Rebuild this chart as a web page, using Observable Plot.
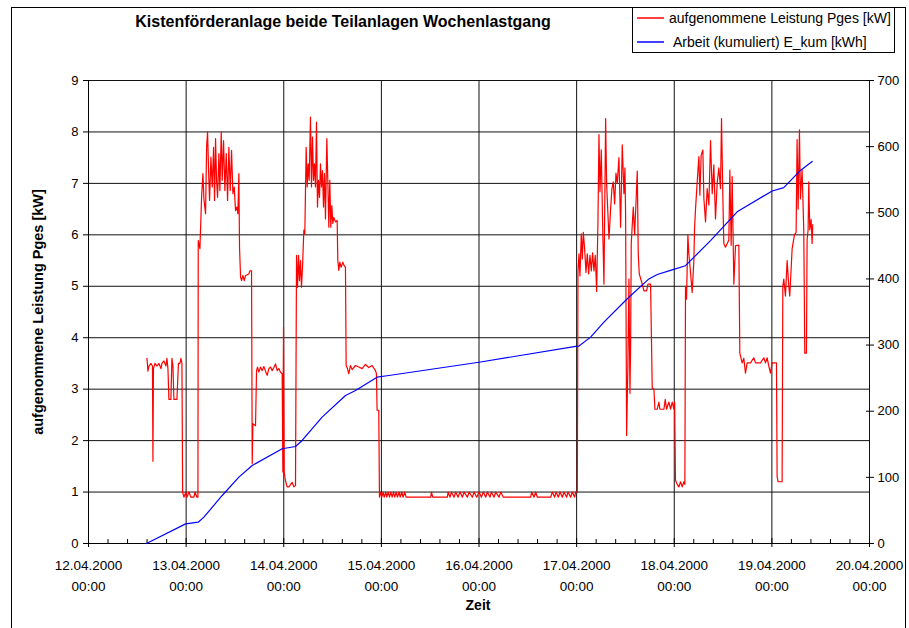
<!DOCTYPE html>
<html>
<head>
<meta charset="utf-8">
<script src="https://cdn.jsdelivr.net/npm/d3@7"></script>
<script src="https://cdn.jsdelivr.net/npm/@observablehq/plot@0.6"></script>
<style>
  html, body { margin: 0; padding: 0; background: #fff; overflow: hidden; }
  #wrap { position: relative; width: 909px; height: 628px; font-family: "Liberation Sans", Arial, sans-serif; }
  #frame { position: absolute; left: 11px; top: 7px; width: 895px; height: 700px; border: 1px solid #000; box-sizing: border-box; }
  #title { position: absolute; left: 0; width: 686px; top: 13px; text-align: center; font-weight: bold; font-size: 16px; }
  #legend { position: absolute; left: 632px; top: 7px; width: 263px; height: 46px; border: 1px solid #000; box-sizing: border-box; background: #fff; font-size: 14px; }
  .lg { position: absolute; left: 4px; white-space: nowrap; display: flex; align-items: center; }
  .lg svg { margin-right: 4px; }
  #ylab { position: absolute; left: 38px; top: 312px; transform: translate(-50%, -50%) rotate(-90deg); font-weight: bold; font-size: 14.5px; white-space: nowrap; }
  #xlab { position: absolute; left: 478px; top: 605px; transform: translate(-50%, -50%); font-weight: bold; font-size: 14px; }
  #chart { position: absolute; left: 0; top: 0; }
</style>
</head>
<body>
<div id="wrap">
  <div id="frame"></div>
  <div id="chart"></div>
  <div id="title"></div>
  <div id="legend"></div>
  <div id="ylab"></div>
  <div id="xlab"></div>
</div>
<script>
// ---- text ----
const titleText = "Kistenförderanlage beide Teilanlagen Wochenlastgang";
const seriesNames = ["aufgenommene Leistung Pges [kW]", "Arbeit (kumuliert) E_kum [kWh]"];
const seriesColors = ["#ff0000", "#0000ff"];
const yLabelLeft = "aufgenommene Leistung Pges [kW]";
const xLabel = "Zeit";

// ---- tick labels ----
const dayLabels = ["12.04.2000", "13.04.2000", "14.04.2000", "15.04.2000", "16.04.2000", "17.04.2000", "18.04.2000", "19.04.2000", "20.04.2000"];
const timeLabel = "00:00";
const leftTicks = [0, 1, 2, 3, 4, 5, 6, 7, 8, 9];
const rightTicks = [0, 100, 200, 300, 400, 500, 600, 700];

// ---- data: hours since 12.04.2000 00:00 ----
const pHours = [
14.37,14.62,14.86,15.35,15.72,15.84,15.97,16.34,16.83,17.32,17.81,18.05,18.54,19.04,19.28,19.53,19.77,20.26,20.51,20.76,21.0,21.74,22.11,22.48,22.72,22.97,
23.14,23.46,23.95,24.2,24.69,25.18,25.92,26.17,26.66,26.9,
26.98,27.39,27.8,28.13,28.37,28.78,29.03,29.27,29.52,29.76,30.09,30.42,30.75,30.99,31.24,31.48,31.73,32.06,32.3,32.63,32.88,33.2,33.53,33.86,34.19,34.51,34.84,35.17,35.5,35.82,36.15,36.48,36.72,36.97,37.05,
37.13,37.38,37.63,37.95,38.28,38.61,39.43,39.67,40.08,40.25,40.41,41.06,
41.31,41.55,41.88,42.29,42.7,43.11,43.52,43.93,44.34,44.75,45.16,45.57,45.98,46.39,46.8,47.21,47.61,47.78,47.94,48.11,48.43,48.84,49.25,50.07,50.48,50.89,
51.14,51.38,51.63,51.87,52.12,52.36,52.61,52.94,53.18,53.51,53.76,54.0,54.25,54.57,54.82,55.07,55.31,55.56,55.8,56.05,56.29,56.54,56.79,57.03,57.28,57.52,57.77,58.01,58.26,58.59,58.83,59.08,59.32,59.57,59.82,60.06,60.31,60.72,61.13,
61.29,61.54,61.78,62.11,62.52,62.85,63.17,63.34,63.66,63.99,64.4,64.81,65.63,66.45,67.27,68.09,68.9,69.72,70.54,70.79,70.95,71.36,71.53,
71.86,72.10,72.43,72.68,73.08,73.33,73.66,73.99,74.31,74.64,74.97,75.30,75.62,75.95,76.36,76.61,77.02,77.34,77.75,78.08,78.41,84.14,84.30,84.63,
88.23,88.40,88.89,89.22,89.87,90.28,90.85,91.34,91.92,92.33,93.15,93.56,94.37,94.78,95.44,96.01,96.59,97.08,97.65,98.06,98.71,99.04,99.70,100.11,100.93,101.33,101.99,
108.70,108.95,109.52,109.93,110.34,113.62,114.03,114.60,114.93,115.50,115.91,116.48,116.89,117.55,117.87,118.53,118.94,119.51,119.76,120.17,
120.33,120.58,120.82,121.15,121.4,121.64,121.97,122.3,122.62,122.95,123.28,123.61,123.93,124.26,124.59,124.92,125.24,125.49,125.74,126.06,126.39,126.72,127.13,127.37,127.7,127.95,128.36,128.68,129.01,129.34,129.67,129.99,130.4,130.81,131.22,131.63,131.88,132.04,
132.29,132.61,132.86,133.11,133.27,133.43,133.68,133.93,134.25,134.58,134.91,135.15,135.4,136.14,136.54,137.2,137.53,138.18,
138.59,139.0,139.25,139.82,140.23,140.47,141.46,141.78,142.11,142.68,143.09,143.5,143.91,144.1,144.3,144.73,145.14,145.55,145.96,146.37,146.61,
146.77,147.02,147.35,147.59,148.0,148.41,148.82,148.99,149.23,149.64,150.05,150.3,150.62,151.03,151.28,151.69,152.1,152.51,152.92,153.33,153.73,154.14,154.55,154.96,155.37,155.62,156.03,156.19,156.6,157.42,157.67,157.99,158.24,158.65,159.06,159.88,
160.12,160.69,161.1,161.51,161.92,162.74,163.56,163.97,165.2,166.02,166.43,166.84,167.25,167.65,168.06,169.13,169.29,169.54,170.52,
170.69,170.93,171.34,171.75,172.16,172.4,172.98,173.55,173.96,174.2,174.45,174.78,175.02,175.43,175.84,176.09,176.5,176.66,176.91,177.07,177.32,177.65,177.89,178.05
];
const pges = [
3.6,3.35,3.45,3.5,3.45,1.6,3.4,3.5,3.45,3.5,3.4,3.5,3.55,3.45,3.6,3.4,2.8,2.8,3.6,3.45,2.8,2.8,3.5,3.5,3.6,3.5,
1.0,0.9,1.0,0.9,1.0,0.9,0.9,1.0,0.9,0.9,
5.89,5.73,6.73,7.19,6.7,6.41,7.7,8.0,7.25,6.67,7.51,6.93,7.7,6.67,7.87,7.06,6.73,7.58,6.86,8.0,7.06,7.83,6.86,7.58,6.67,7.7,6.86,7.64,6.8,6.93,6.47,6.54,6.41,7.19,6.41,
5.76,5.18,5.11,5.21,5.11,5.21,5.24,5.3,5.3,1.55,2.33,2.29,
3.36,3.43,3.33,3.43,3.36,3.44,3.35,3.27,3.4,3.43,3.36,3.42,3.49,3.36,3.4,3.33,3.3,1.39,4.21,1.39,1.22,1.1,1.1,1.19,1.1,1.13,
5.6,4.98,5.6,5.11,5.5,4.98,5.37,6.09,6.02,7.7,6.93,7.38,7.06,8.29,6.93,7.9,7.06,7.38,6.93,8.19,6.54,7.06,6.73,7.38,6.93,7.25,6.54,7.19,6.31,7.87,7.06,6.15,7.06,6.15,6.57,6.22,6.34,6.25,6.28,
5.5,5.31,5.47,5.37,5.47,5.4,5.37,3.46,3.4,3.3,3.46,3.38,3.46,3.43,3.4,3.48,3.42,3.46,3.36,3.3,2.59,2.59,0.9,
1.0,0.9,1.0,0.9,1.0,0.9,1.0,0.9,1.0,0.9,1.0,0.9,1.0,0.9,1.0,0.9,1.0,0.9,1.0,0.9,0.9,0.9,1.0,0.9,
0.9,1.0,0.9,1.0,0.9,1.0,0.9,1.0,0.9,1.0,0.9,1.0,0.9,1.0,0.9,1.0,0.9,1.0,0.9,1.0,0.9,1.0,0.9,1.0,0.9,1.0,0.9,
0.9,1.0,0.9,1.0,0.9,0.9,1.0,0.9,1.0,0.9,1.0,0.9,1.0,0.9,1.0,0.9,1.0,0.9,1.0,1.0,
5.27,5.63,5.2,6.02,5.53,6.05,5.73,5.27,5.63,5.24,5.6,5.3,5.65,5.3,5.6,4.9,6.25,7.95,6.84,7.65,6.2,5.04,8.26,7.0,6.4,5.92,6.51,6.9,7.03,6.6,7.2,7.0,7.5,6.15,7.75,6.8,7.3,6.4,
2.1,3.5,5.14,2.92,3.8,5.83,6.2,6.54,6.0,6.6,7.24,5.63,5.24,5.04,4.91,4.91,5.04,5.04,
3.02,3.0,2.61,2.61,2.75,2.61,2.61,2.8,2.61,2.75,2.61,2.75,2.61,2.75,1.23,1.15,1.1,1.2,1.1,1.2,1.15,
5.0,4.75,6.0,5.63,5.27,4.88,5.5,6.12,6.5,7.03,7.52,6.77,7.55,7.65,6.71,6.25,6.9,6.58,7.83,6.8,7.36,6.31,7.0,7.3,6.9,8.26,6.41,5.83,5.76,5.9,7.26,5.8,7.13,5.04,5.79,5.8,
3.7,3.51,3.6,3.31,3.51,3.51,3.61,3.51,3.51,3.61,3.51,3.61,3.45,3.31,3.51,3.51,1.3,1.2,1.2,
5.0,5.14,4.81,5.5,5.0,4.81,5.73,6.0,6.05,7.85,6.5,8.04,6.7,7.26,6.1,3.7,3.7,5.9,6.1,7.03,6.1,6.3,5.83,6.2
];
const eHours = [14.25,23.88,26.97,28.37,32.87,36.97,40.24,47.61,50.9,52.52,57.43,63.18,65.64,70.94,73.82,96.0,119.76,120.57,123.44,126.71,132.46,137.76,139.82,143.09,146.77,152.92,159.47,168.07,170.92,175.02,177.9];
const ekum = [0,29.7,32.2,39.8,72.6,100.3,118,143.2,146.7,155.8,191,223.8,231.4,251.5,254,274,298,298.5,312,334.6,370,400,406.7,413,420,458,501.5,533,538,564,577.6];

// ---- build ----
const t0 = Date.UTC(2000, 3, 12);
const toDate = h => new Date(t0 + h * 3600e3);
const leftMax = 9, rightMax = 700;
const red = pHours.map((h, i) => ({t: toDate(h), v: pges[i]}));
const blue = eHours.map((h, i) => ({t: toDate(h), e: ekum[i]}));
const days = dayLabels.map((_, i) => new Date(t0 + i * 864e5));
const minor = d3.range(0, 40).filter(k => k % 5 !== 0).map(k => new Date(t0 + k * 0.2 * 864e5));
const dayIndex = d => Math.round((d - t0) / 864e5);

const chart = Plot.plot({
  width: 909, height: 628,
  marginLeft: 88, marginRight: 40, marginTop: 80, marginBottom: 85,
  style: {fontFamily: '"Liberation Sans", Arial, sans-serif', fontSize: "12px", background: "transparent", color: "#000"},
  x: {type: "utc", domain: [days[0], days[days.length - 1]]},
  y: {domain: [0, leftMax]},
  marks: [
    Plot.gridY({ticks: leftTicks.slice(1), stroke: "#111", strokeOpacity: 1}),
    Plot.gridX({ticks: days.slice(1), stroke: "#111", strokeOpacity: 1}),
    Plot.ruleX([days[0]], {stroke: "#000"}),
    Plot.ruleY([0], {stroke: "#000"}),
    Plot.line(red, {x: "t", y: "v", stroke: seriesColors[0], strokeWidth: 1.2}),
    Plot.line(blue, {x: "t", y: d => d.e * leftMax / rightMax, stroke: seriesColors[1], strokeWidth: 1.2}),
    Plot.axisY({ticks: leftTicks, tickSize: 5, tickPadding: 5, label: null, fontSize: 13}),
    Plot.axisY({anchor: "right", ticks: rightTicks.map(v => v * leftMax / rightMax),
      tickFormat: d => String(Math.round(d * rightMax / leftMax)), tickSize: 8, dx: -4, tickPadding: 4, label: null, fontSize: 13}),
    Plot.axisX({ticks: minor, tickSize: 4, dy: -4, tickFormat: () => "", label: null}),
    Plot.axisX({ticks: days, tickSize: 9, dy: -5, tickFormat: () => "", label: null}),
    Plot.axisX({ticks: days, tickSize: 0, tickPadding: 12, lineHeight: 1.55, fontSize: 13.5,
      tickFormat: d => dayLabels[dayIndex(d)] + "\n" + timeLabel, label: null})
  ]
});
document.getElementById("chart").appendChild(chart);

document.getElementById("title").textContent = titleText;
document.getElementById("ylab").textContent = yLabelLeft;
document.getElementById("xlab").textContent = xLabel;
const lg = document.getElementById("legend");
const NS = "http://www.w3.org/2000/svg";
seriesNames.forEach((name, i) => {
  const row = document.createElement("div");
  row.className = "lg";
  row.style.top = (i === 0 ? 0 : 24) + "px";
  row.style.height = "20px";
  const sw = document.createElementNS(NS, "svg");
  sw.setAttribute("width", i === 0 ? 28 : 32);
  sw.setAttribute("height", 4);
  const ln = document.createElementNS(NS, "line");
  ln.setAttribute("x1", 0); ln.setAttribute("x2", 27);
  ln.setAttribute("y1", 2); ln.setAttribute("y2", 2);
  ln.setAttribute("stroke", seriesColors[i]);
  ln.setAttribute("stroke-width", 1.5);
  sw.appendChild(ln);
  row.appendChild(sw);
  row.appendChild(document.createTextNode(name));
  lg.appendChild(row);
});
</script>
</body>
</html>
